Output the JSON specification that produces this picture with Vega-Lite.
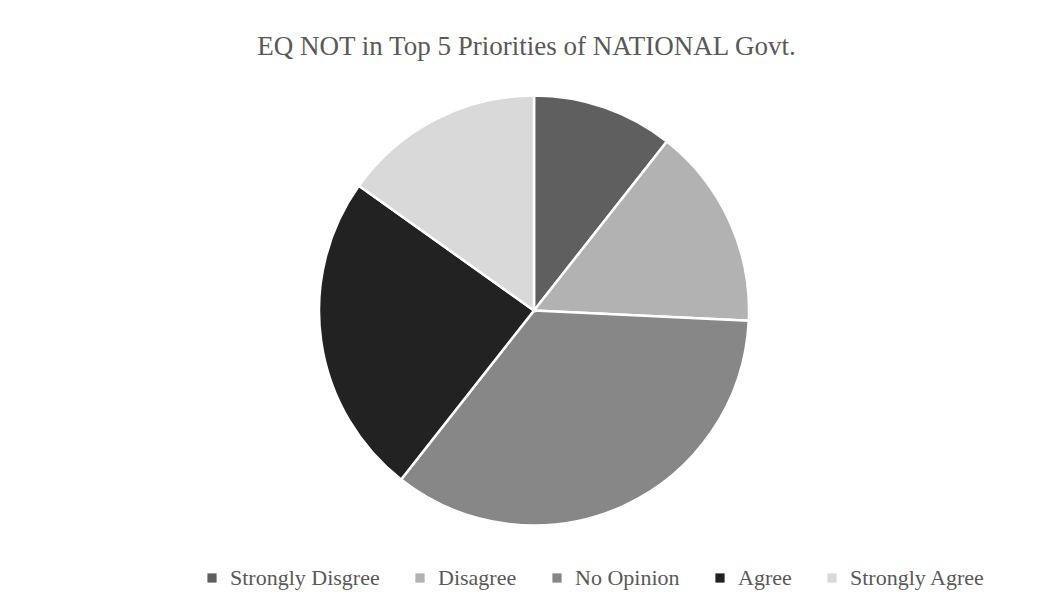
{
  "$schema": "https://vega.github.io/schema/vega-lite/v6.json",
  "autosize": {"type": "none"},
  "padding": {"left": 6, "top": 5, "right": 0, "bottom": 0},
  "width": 1041,
  "height": 611,
  "background": "white",
  "title": {
    "text": "EQ NOT in Top 5 Priorities of NATIONAL Govt.",
    "anchor": "middle",
    "frame": "group",
    "orient": "top",
    "offset": -56,
    "baseline": "top",
    "font": "Liberation Serif",
    "fontSize": 27,
    "fontWeight": "normal",
    "color": "#595959"
  },
  "config": {
    "view": {"stroke": "#d9d9d9", "strokeWidth": 2}
  },
  "data": {
    "values": [
      {"response": "Strongly Disgree", "count": 7, "order": 1},
      {"response": "Disagree", "count": 10, "order": 2},
      {"response": "No Opinion", "count": 23, "order": 3},
      {"response": "Agree", "count": 16, "order": 4},
      {"response": "Strongly Agree", "count": 10, "order": 5}
    ]
  },
  "mark": {"type": "arc", "outerRadius": 215, "stroke": "white", "strokeWidth": 2.5, "xOffset": 7.5},
  "encoding": {
    "theta": {"field": "count", "type": "quantitative", "stack": true},
    "order": {"field": "order", "type": "quantitative"},
    "color": {
      "field": "response",
      "type": "nominal",
      "sort": ["Strongly Disgree", "Disagree", "No Opinion", "Agree", "Strongly Agree"],
      "scale": {
        "domain": ["Strongly Disgree", "Disagree", "No Opinion", "Agree", "Strongly Agree"],
        "range": ["#5f5f5f", "#b2b2b2", "#878787", "#222222", "#d9d9d9"]
      },
      "legend": {
        "title": null,
        "orient": "none",
        "direction": "horizontal",
        "legendX": 195,
        "legendY": 562,
        "symbolType": "square",
        "symbolSize": 85,
        "symbolStrokeWidth": 0,
        "labelFont": "Liberation Serif",
        "labelFontSize": 22,
        "labelColor": "#595959",
        "labelOffset": 7,
        "columnPadding": 29,
        "labelLimit": 400
      }
    }
  }
}
